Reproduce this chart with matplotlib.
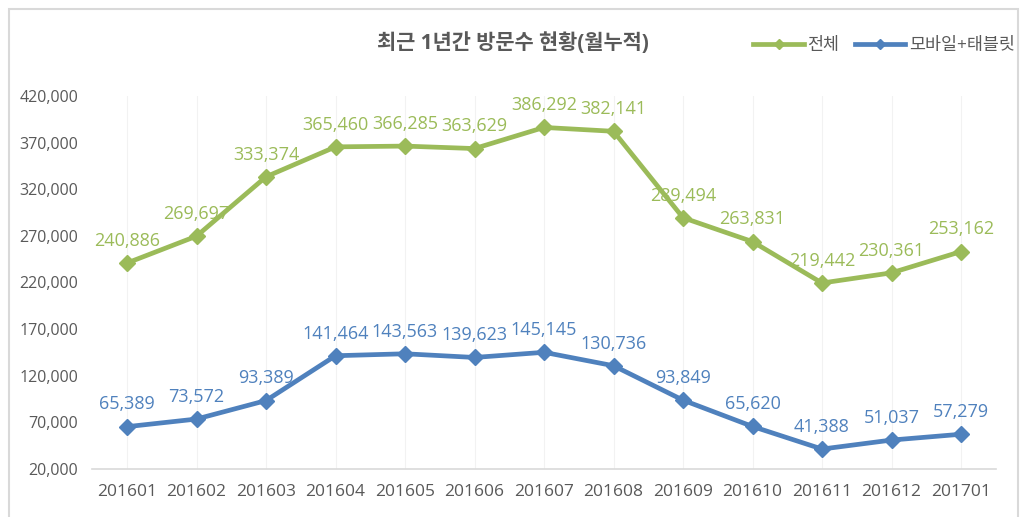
import matplotlib
matplotlib.use("Agg")
import matplotlib.pyplot as plt
from matplotlib.patches import Rectangle
from matplotlib.lines import Line2D

categories = ["201601", "201602", "201603", "201604", "201605", "201606", "201607",
              "201608", "201609", "201610", "201611", "201612", "201701"]
total = [240886, 269697, 333374, 365460, 366285, 363629, 386292,
         382141, 289494, 263831, 219442, 230361, 253162]
mobile = [65389, 73572, 93389, 141464, 143563, 139623, 145145,
          130736, 93849, 65620, 41388, 51037, 57279]
yticks = [20000, 70000, 120000, 170000, 220000, 270000, 320000, 370000, 420000]
title = "최근 1년간 방문수 현황(월누적)"
series_names = ["전체", "모바일+태블릿"]

GREEN = "#9BBB59"
BLUE = "#4F81BD"
GRAY = "#595959"
FAM = ["Open Sans", "Noto Sans CJK KR", "DejaVu Sans"]
plt.rcParams["font.family"] = FAM

W, H = 1027, 517
fig = plt.figure(figsize=(W / 100, H / 100), dpi=100)

# outer frame
fig.patches.append(Rectangle((9 / W, -0.05), (1018 - 9) / W, 1.05 - 9 / H,
                             transform=fig.transFigure, fill=False,
                             edgecolor="#D9D9D9", linewidth=1.5))

left, right, top, bottom = 92.25, 995.75, 96, 469
ax = fig.add_axes([left / W, (H - bottom) / H, (right - left) / W, (bottom - top) / H])

x = list(range(len(categories)))
ax.plot(x, total, color=GREEN, linewidth=3.4, marker="D", markersize=8.5,
        markerfacecolor=GREEN, markeredgecolor=GREEN, zorder=3, solid_joinstyle="round")
ax.plot(x, mobile, color=BLUE, linewidth=3.4, marker="D", markersize=8.5,
        markerfacecolor=BLUE, markeredgecolor=BLUE, zorder=3, solid_joinstyle="round")

for xi, v in zip(x, total):
    ax.annotate(f"{v:,}", (xi, v), xytext=(0, 9.5), textcoords="offset points",
                ha="center", va="bottom", color=GREEN, fontsize=13)
for xi, v in zip(x, mobile):
    ax.annotate(f"{v:,}", (xi, v), xytext=(0, 9.5), textcoords="offset points",
                ha="center", va="bottom", color=BLUE, fontsize=13)

ax.set_xlim(-0.5, len(categories) - 0.5)
ax.set_ylim(20000, 420000)
ax.set_yticks(yticks)
ax.set_yticklabels([f"{v:,}" for v in yticks])
ax.set_xticks(x)
ax.set_xticklabels(categories)
ax.tick_params(axis="both", length=0, colors=GRAY)
ax.tick_params(axis="x", pad=11, labelsize=12.5)
ax.tick_params(axis="y", pad=10, labelsize=11.5)

for xi in x:
    ax.axvline(xi, color="#F2F2F2", linewidth=0.8, zorder=0)

for s in ["top", "right", "left"]:
    ax.spines[s].set_visible(False)
ax.spines["bottom"].set_color("#D9D9D9")
ax.spines["bottom"].set_linewidth(1.2)

fig.text(513 / W, 1 - 43 / H, title, ha="center", va="center",
         fontsize=15, fontweight="bold", color=GRAY)

handles = [Line2D([0], [0], color=GREEN, linewidth=3.4, marker="D", markersize=5),
           Line2D([0], [0], color=BLUE, linewidth=3.4, marker="D", markersize=5)]
fig.legend(handles, series_names, loc="center", bbox_to_anchor=(884 / W, 1 - 46 / H),
           ncol=2, frameon=False, fontsize=12.5, handlelength=2.9, handletextpad=0.2,
           columnspacing=0.9, labelcolor=GRAY)

fig.savefig("out.png", dpi=100, facecolor="white")
